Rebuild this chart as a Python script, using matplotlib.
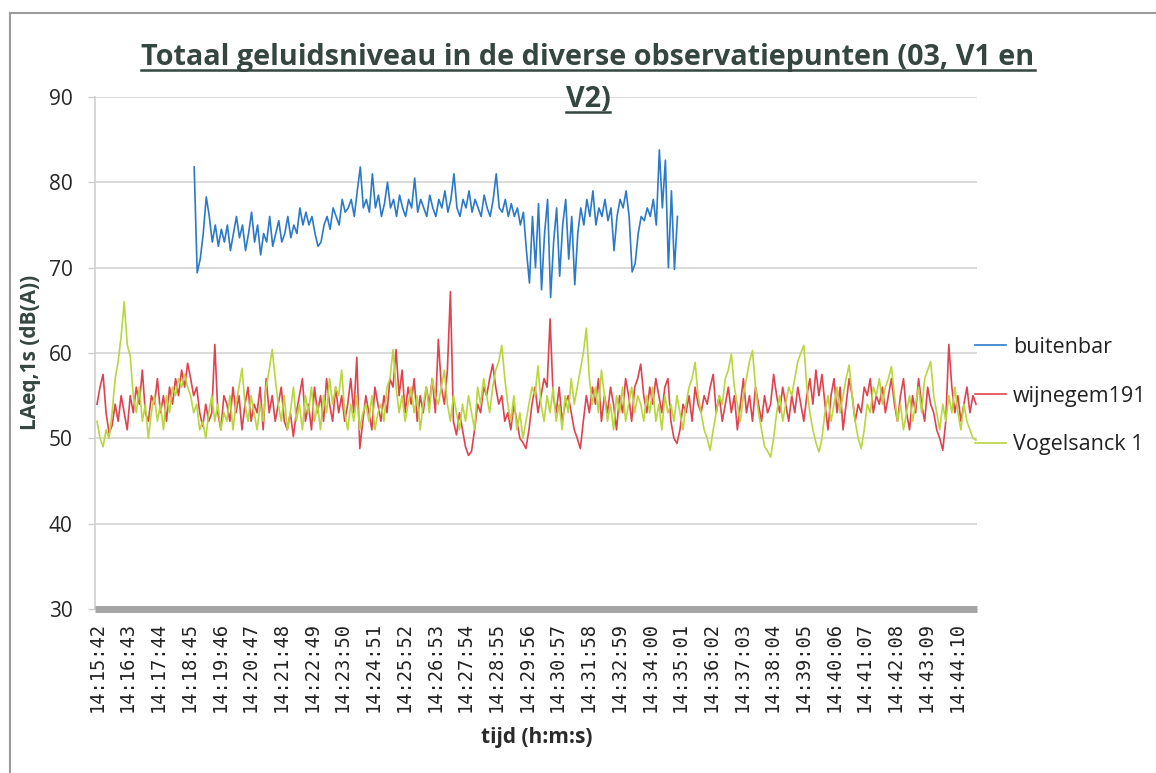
import matplotlib
matplotlib.use("Agg")
import matplotlib.pyplot as plt
from matplotlib.lines import Line2D

# ---------------------------------------------------------------- data
# Category labels shown on the time axis (one label every 61 s)
time_labels = [
    "14:15:42", "14:16:43", "14:17:44", "14:18:45", "14:19:46", "14:20:47",
    "14:21:48", "14:22:49", "14:23:50", "14:24:51", "14:25:52", "14:26:53",
    "14:27:54", "14:28:55", "14:29:56", "14:30:57", "14:31:58", "14:32:59",
    "14:34:00", "14:35:01", "14:36:02", "14:37:03", "14:38:04", "14:39:05",
    "14:40:06", "14:41:07", "14:42:08", "14:43:09", "14:44:10",
]
label_every = 61          # seconds between labelled categories
sample_step = 6           # seconds between stored samples
total_seconds = 1752      # length of the category axis

# buitenbar: measured from 14:18:55 onwards (offset in seconds)
buitenbar_start = 193
buitenbar = [
    81.8, 69.4, 71, 74, 78.3, 76, 73, 75, 72.5, 74.5,
    73, 75, 72, 74, 76, 73.5, 75, 72, 74, 76.5,
    73, 75, 71.5, 74, 73, 76, 72.5, 74, 75.5, 73,
    74, 76, 73.5, 75, 74, 77, 75, 76.5, 75, 76,
    74, 72.5, 73, 75, 76, 74.5, 77, 76, 75, 78,
    76.5, 77, 78, 76, 79, 81.8, 77, 78, 76.5, 81,
    77, 78.5, 76, 77.5, 80, 77, 78, 76, 78.5, 77,
    76, 78, 77, 80.5, 76.5, 78, 77, 76, 78.5, 77,
    76, 78, 77, 79, 76.5, 78, 81, 77, 76, 78,
    77, 79, 76.5, 78, 77, 76, 78.5, 77, 76, 78,
    81, 77, 76.5, 78, 76, 77.5, 76, 77, 75, 76.5,
    72, 68.2, 76, 70, 77.5, 67.4, 74, 78, 66.5, 73,
    77, 69, 75, 78, 71, 76, 68, 74, 77, 75,
    78, 76, 79, 75, 77, 76, 78, 75.5, 77, 72,
    76, 78, 77, 79, 76, 69.5, 70.5, 74, 76, 75.5,
    77, 76, 78, 75, 83.8, 77, 82.6, 70, 79, 69.8,
    76,
]

# wijnegem191: whole period
wijnegem191 = [
    54, 56, 57.5, 53, 50.6, 51.5, 54, 52, 55, 53,
    51, 55, 53, 56, 54, 58, 53, 52, 55, 54,
    57, 53, 55, 52, 56, 54, 57, 55, 58, 56,
    58.8, 57, 55, 56, 53, 51.4, 54, 52, 53, 61,
    53, 51, 55, 54, 52, 56, 53, 55, 51, 54,
    56, 52, 54, 53, 56, 51, 57, 53, 55, 52,
    54, 56, 52, 51, 53, 50.2, 53, 55, 57, 52,
    54, 51, 56, 53, 55, 52, 57, 54, 52, 56,
    53, 55, 52, 54, 57, 53, 59.5, 48.8, 52, 55,
    53, 51, 56, 54, 52, 55, 53, 57, 56, 60.4,
    55, 58, 53, 56, 54, 57, 52, 55, 53, 56,
    54, 57, 53, 61.6, 56, 54, 58, 67.2, 52, 50.4,
    53, 51, 49, 48, 48.5, 51, 54, 53, 56, 55,
    57, 58.7, 56, 54, 55, 52, 53, 51, 54, 52,
    50, 49.5, 48.8, 51, 54, 56, 53, 55, 57, 56,
    64, 55, 53, 56, 52, 54, 55, 53, 51, 50,
    48.8, 52, 55, 53, 56, 54, 57, 52, 55, 53,
    56, 54, 51, 55, 53, 57, 55, 52, 56, 57,
    58.7, 55, 53, 56, 54, 57, 55, 53, 56, 57,
    52, 50, 49.4, 51, 54, 53, 55, 52, 56, 54,
    53, 55, 54, 56, 57.5, 53, 55, 52, 54, 56,
    53, 55, 51, 54, 57, 53, 55, 52, 56, 54,
    52, 55, 53, 54, 57.5, 55, 53, 56, 54, 52,
    55, 53, 56, 54, 52, 55, 57, 54, 58, 55,
    57.5, 54, 51, 55, 57, 53, 56, 51, 54, 57,
    55, 52, 54, 53, 56, 55, 57, 53, 55, 54,
    56, 53, 55, 57, 54, 52, 55, 57, 53, 51,
    55, 53, 57, 54, 52, 56, 54, 53, 51, 50,
    48.6, 52, 61, 56, 53, 55, 52, 54, 56, 53,
    55, 54,
]

# Vogelsanck 1: whole period
vogelsanck1 = [
    52, 50, 49, 51, 50, 53, 57, 59, 62, 66,
    61, 59.6, 55, 53, 56, 52, 54, 50, 53, 55,
    52, 54, 51, 55, 53, 56, 55, 57, 56, 57.5,
    56, 55, 53, 54, 51, 52, 50, 53, 55, 52,
    54, 51, 53, 52, 55, 51, 54, 56, 58.2, 54,
    52, 55, 53, 51, 54, 52, 56, 58, 60.4, 57,
    54, 52, 55, 51, 53, 56, 52, 54, 51, 55,
    53, 56, 52, 54, 51, 55, 53, 57, 54, 56,
    55, 58, 53, 51, 54, 52, 55, 51, 53, 54,
    52, 55, 51, 53, 54, 52, 56, 57, 60.4, 56,
    53, 55, 52, 54, 56, 53, 55, 51, 54, 56,
    53, 57, 55, 54, 56, 58, 54, 52, 55, 53,
    51, 54, 52, 55, 53, 51, 56, 54, 57, 55,
    53, 56, 58, 59, 60.9, 57, 54, 52, 55, 51,
    53, 50, 52, 54, 56, 55, 58.5, 54, 52, 55,
    53, 56, 52, 54, 51, 55, 53, 57, 54, 56,
    58, 60, 62.9, 57, 54, 56, 53, 58, 55, 52,
    54, 51, 55, 53, 56, 52, 54, 56, 53, 55,
    54, 52, 55, 53, 56, 52, 54, 51, 55, 53,
    54, 52, 55, 53, 51, 54, 56, 57, 58.9, 55,
    53, 51, 50, 48.6, 51, 53, 55, 54, 57, 58,
    59.9, 56, 54, 52, 55, 57, 59, 60.3, 56, 53,
    51, 49, 48.5, 47.8, 50, 53, 55, 52, 54, 56,
    55, 57, 59, 60, 60.9, 56, 53, 51, 49.5, 48.4,
    50, 53, 55, 52, 54, 56, 53, 55, 57, 58.6,
    55, 52, 50, 48.8, 51, 54, 53, 56, 55, 57,
    54, 56, 57, 58.4, 55, 52, 54, 51, 53, 55,
    52, 54, 56, 53, 57, 58, 59, 55, 53, 51,
    54, 52, 55, 53, 56, 53, 51, 54, 52, 51,
    50, 49.8,
]

series = [
    ("buitenbar", buitenbar_start, buitenbar, "#2b79c9"),
    ("wijnegem191", 0, wijnegem191, "#e0424f"),
    ("Vogelsanck 1", 0, vogelsanck1, "#b9d63e"),
]

# ---------------------------------------------------------------- figure
W, H = 1156, 773
fig = plt.figure(figsize=(W / 100, H / 100), dpi=100)
fig.patch.set_facecolor("white")

ax = fig.add_axes([95 / W, 1 - 609 / H, (977 - 95) / W, (609 - 97) / H])

for name, start, values, color in series:
    xs = [start + i * sample_step for i in range(len(values))]
    ax.plot(xs, values, color=color, lw=1.2, label=name, solid_joinstyle="round")

ax.set_xlim(-4, total_seconds - 4)
ax.set_ylim(30, 90)
ax.set_yticks(range(30, 91, 10))
ax.yaxis.grid(True, color="#d4d4d4", lw=1.2)
ax.set_axisbelow(True)

ax.set_xticks([k * label_every for k in range(len(time_labels))])
ax.set_xticklabels(time_labels, rotation=90, family="DejaVu Sans Mono",
                   fontsize=13.5, color="#222222")
ax.tick_params(axis="x", length=0, pad=9)
ax.tick_params(axis="y", length=5, width=1, color="#cccccc", pad=11,
               labelsize=15, labelcolor="#262626")
for lab in ax.get_yticklabels():
    lab.set_family("Open Sans")

for side in ("top", "right"):
    ax.spines[side].set_visible(False)
ax.spines["left"].set_color("#d0d0d0")
ax.spines["left"].set_linewidth(1.2)
ax.spines["bottom"].set_color("#a4a4a4")
ax.spines["bottom"].set_linewidth(5)
ax.spines["bottom"].set_capstyle("butt")

leg = ax.legend(loc="center left", bbox_to_anchor=(975 / W, 1 - 396 / H),
                bbox_transform=fig.transFigure, frameon=False,
                prop={"family": "Open Sans", "size": 15.5},
                handlelength=1.45, handletextpad=0.3, labelspacing=1.3,
                borderpad=0, borderaxespad=0)
for txt in leg.get_texts():
    txt.set_color("#222222")

title_color = "#34463f"

# axis titles
fig.text(537 / W, 1 - 738 / H, "tijd (h:m:s)", ha="center", va="center",
         fontsize=15, fontweight="bold", family="Open Sans", color="#2a2a2a")
fig.text(31 / W, 1 - 352 / H, "LAeq,1s (dB(A))", ha="center", va="center",
         rotation=90, fontsize=15, fontweight="bold", family="Open Sans",
         color=title_color)

# underlined two-line title
title_lines = ["Totaal geluidsniveau in de diverse observatiepunten (03, V1 en", "V2)"]
baselines = [65, 107]
title_texts = []
for line, base in zip(title_lines, baselines):
    t = fig.text(588 / W, 1 - base / H, line, ha="center", va="baseline",
                 fontsize=20.7, fontweight="bold", family="Open Sans",
                 color=title_color)
    title_texts.append((t, base))

fig.canvas.draw()
renderer = fig.canvas.get_renderer()
for t, base in title_texts:
    bb = t.get_window_extent(renderer)
    y = 1 - (base + 5) / H
    fig.add_artist(Line2D([bb.x0 / W, bb.x1 / W], [y, y], transform=fig.transFigure,
                          color=title_color, lw=1.8))

# outer frame of the chart area
fig.add_artist(Line2D([10 / W, 1], [1 - 13 / H, 1 - 13 / H], transform=fig.transFigure,
                      color="#9a9a9a", lw=1.5))
fig.add_artist(Line2D([10 / W, 10 / W], [0, 1 - 13 / H], transform=fig.transFigure,
                      color="#9a9a9a", lw=1.5))

fig.savefig("out.png", dpi=100)
